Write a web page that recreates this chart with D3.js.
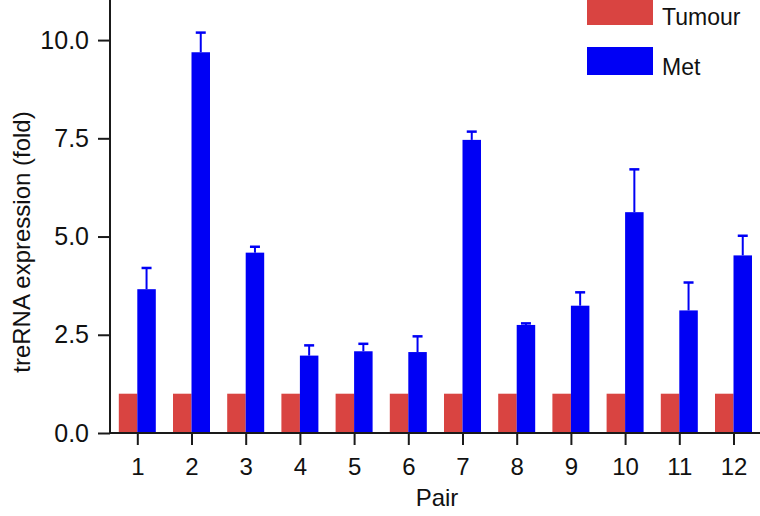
<!DOCTYPE html>
<html>
<head>
<meta charset="utf-8">
<script src="https://cdn.jsdelivr.net/npm/d3@7"></script>
<style>
    body { margin: 0; background: #fff; }
    svg { display: block; font-family: "Liberation Sans", Arial, sans-serif; }
</style>
</head>
<body>
<div id="chart"></div>
<script>
// pairs and fold values
const pairs = ['1', '2', '3', '4', '5', '6', '7', '8', '9', '10', '11', '12'];
const tumour = [1, 1, 1, 1, 1, 1, 1, 1, 1, 1, 1, 1];
const met = [3.66, 9.69, 4.59, 1.97, 2.08, 2.06, 7.46, 2.75, 3.24, 5.62, 3.12, 4.52];
const metErr = [0.54, 0.50, 0.15, 0.26, 0.19, 0.40, 0.21, 0.04, 0.34, 1.09, 0.71, 0.50];
const yTicks = [0, 2.5, 5, 7.5, 10];
const seriesNames = ['Tumour', 'Met'];
const colors = {Tumour: '#d94441', Met: '#0000f5'};

const width = 760, height = 516;
const margin = {top: 0, right: 0, bottom: 83, left: 110};
const barW = 18.5;

const svg = d3.select('#chart').append('svg')
    .attr('width', width)
    .attr('height', height);

const x = d3.scalePoint()
    .domain(pairs)
    .range([137.3, 733.5]);

const y = d3.scaleLinear()
    .domain([0, 11.02])
    .range([height - margin.bottom, margin.top]);

const axisColor = '#1a1a1a';

// bars
const g = svg.append('g');

g.selectAll('rect.tumour')
    .data(pairs)
    .enter().append('rect')
    .attr('class', 'tumour')
    .attr('x', (d) => x(d) - barW)
    .attr('y', (d, i) => y(tumour[i]))
    .attr('width', barW)
    .attr('height', (d, i) => y(0) - y(tumour[i]))
    .attr('fill', colors.Tumour);

// error bars (upper only)
g.selectAll('line.err')
    .data(pairs)
    .enter().append('line')
    .attr('class', 'err')
    .attr('x1', (d) => x(d) + barW / 2)
    .attr('x2', (d) => x(d) + barW / 2)
    .attr('y1', (d, i) => y(met[i]))
    .attr('y2', (d, i) => y(met[i] + metErr[i]))
    .attr('stroke', colors.Met)
    .attr('stroke-width', 2);

g.selectAll('line.cap')
    .data(pairs)
    .enter().append('line')
    .attr('class', 'cap')
    .attr('x1', (d) => x(d) + barW / 2 - 5)
    .attr('x2', (d) => x(d) + barW / 2 + 5)
    .attr('y1', (d, i) => y(met[i] + metErr[i]))
    .attr('y2', (d, i) => y(met[i] + metErr[i]))
    .attr('stroke', colors.Met)
    .attr('stroke-width', 2.5);

g.selectAll('rect.met')
    .data(pairs)
    .enter().append('rect')
    .attr('class', 'met')
    .attr('x', (d) => x(d))
    .attr('y', (d, i) => y(met[i]))
    .attr('width', barW)
    .attr('height', (d, i) => y(0) - y(met[i]))
    .attr('fill', colors.Met);

// y axis
const yAxis = svg.append('g')
    .attr('transform', 'translate(' + margin.left + ',0)')
    .call(d3.axisLeft(y).tickValues(yTicks).tickFormat(d3.format('.1f')).tickSize(12).tickPadding(9));

yAxis.select('.domain').remove();
yAxis.append('line')
    .attr('x1', 0).attr('x2', 0)
    .attr('y1', y(0) + 1).attr('y2', 0)
    .attr('stroke', axisColor).attr('stroke-width', 2);
yAxis.selectAll('.tick line').attr('stroke', axisColor).attr('stroke-width', 2);
yAxis.selectAll('.tick text')
    .attr('fill', '#111')
    .style('font-size', '25px');

// x axis
const xAxis = svg.append('g')
    .attr('transform', 'translate(0,' + y(0) + ')')
    .call(d3.axisBottom(x).tickSize(12).tickPadding(13));

xAxis.select('.domain').remove();
xAxis.append('line')
    .attr('x1', margin.left).attr('x2', width)
    .attr('y1', 0).attr('y2', 0)
    .attr('stroke', axisColor).attr('stroke-width', 2);
xAxis.selectAll('.tick line').attr('stroke', axisColor).attr('stroke-width', 2);
xAxis.selectAll('.tick text')
    .attr('fill', '#111')
    .style('font-size', '24px');

// axis titles
svg.append('text')
    .attr('x', 437)
    .attr('y', 506)
    .attr('text-anchor', 'middle')
    .attr('fill', '#111')
    .style('font-size', '24px')
    .text('Pair');

svg.append('text')
    .attr('transform', 'translate(30,242) rotate(-90)')
    .attr('text-anchor', 'middle')
    .attr('fill', '#111')
    .style('font-size', '24px')
    .text('treRNA expression (fold)');

// legend
const legend = svg.append('g')
    .attr('transform', 'translate(587,0)');

const legendItems = legend.selectAll('g')
    .data(seriesNames)
    .enter().append('g')
    .attr('transform', (d, i) => 'translate(0,' + (i * 50) + ')');

legendItems.append('rect')
    .attr('x', 0)
    .attr('y', -3)
    .attr('width', 66)
    .attr('height', 28)
    .attr('fill', (d) => colors[d]);

legendItems.append('text')
    .attr('x', 75)
    .attr('y', 25)
    .attr('fill', '#111')
    .style('font-size', '23px')
    .text((d) => d);
</script>
</body>
</html>
